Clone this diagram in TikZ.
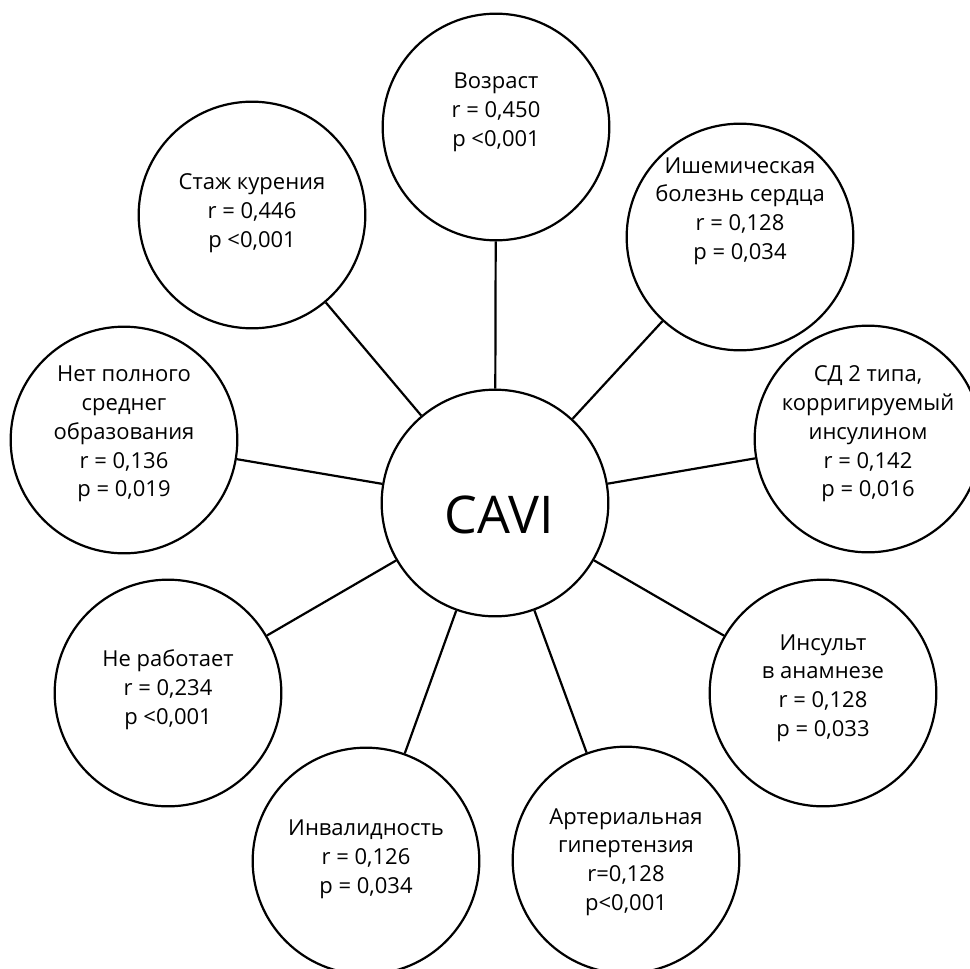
\documentclass[tikz,border=0pt]{standalone}
\usepackage{fontspec}
\setmainfont{Open Sans}

\begin{document}
\begin{tikzpicture}[x=0.75pt, y=-0.75pt,
  factor/.style={circle, draw, line width=1.65pt, minimum size=170pt, inner sep=0pt},
  factortext/.style={align=center, inner sep=0pt, font=\fontsize{16.5}{21.6}\selectfont},
  link/.style={line width=1.65pt}]
  \useasboundingbox (0,0) rectangle (970,968);
  % centre
  \node[factor] (cavi) at (495,503) {};
  \node[inner sep=0pt, font=\fontsize{39}{47}\selectfont] (cavi-t) at (499,515) {CAVI};
  % factors: name / x / y / text y / text
  \foreach \n/\px/\py/\ty/\t in {
    age/496/127/112/{Возраст\\r = 0,450\\p <0,001},
    ihd/740/237/211/{Ишемическая\\болезнь сердца\\r = 0,128\\p = 0,034},
    dm/868/439/434/{СД 2 типа,\\корригируемый\\инсулином\\r = 0,142\\p = 0,016},
    stroke/823/693/688/{Инсульт\\в анамнезе\\r = 0,128\\p = 0,033},
    ah/626/860/862/{Артериальная\\гипертензия\\r=0,128\\p<0,001},
    disab/366/861/859/{Инвалидность\\r = 0,126\\p = 0,034},
    nowork/168/693/690/{Не работает\\r = 0,234\\p <0,001},
    edu/124/440/434/{Нет полного\\среднег\\образования\\r = 0,136\\p = 0,019},
    smoke/252/215/213/{Стаж курения\\r = 0,446\\p <0,001}} {
    \node[factor] (\n) at (\px,\py) {};
    \node[factortext] (\n-t) at (\px,\ty) {\t};
    \draw[link] (cavi) -- (\n);
  }
\end{tikzpicture}
\end{document}
